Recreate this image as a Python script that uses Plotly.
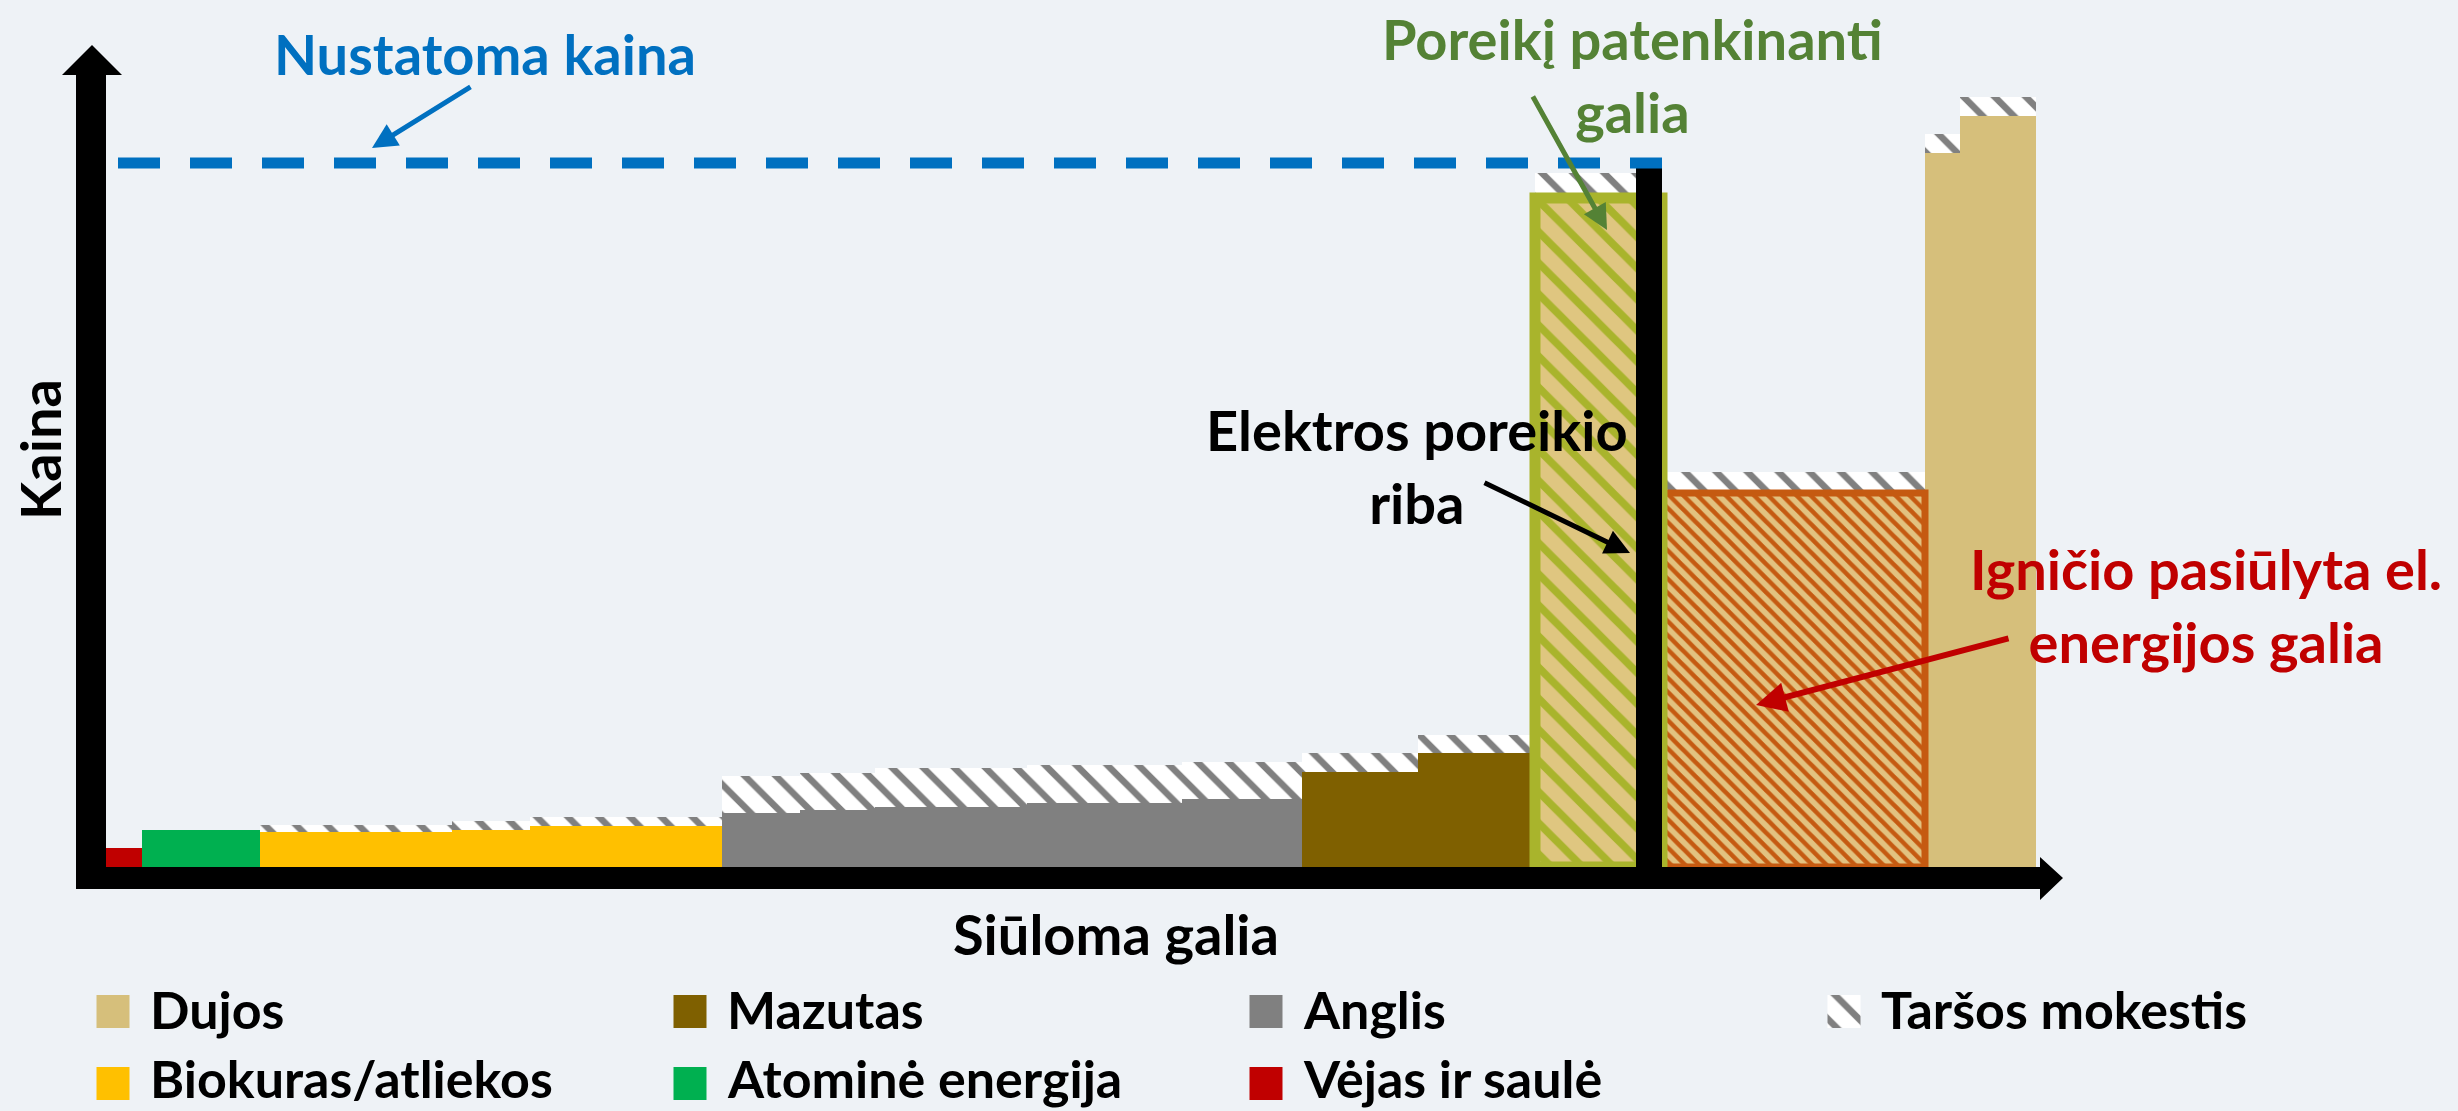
import numpy as np
import plotly.graph_objects as go

# Merit order blocks from left to right (schematic units: capacity offered, price, carbon tax)
block_fuel = ["Vėjas ir saulė", "Atominė energija",
              "Biokuras/atliekos", "Biokuras/atliekos", "Biokuras/atliekos",
              "Anglis", "Anglis", "Anglis", "Anglis", "Anglis",
              "Mazutas", "Mazutas",
              "Dujos (ribinė)", "Dujos (Ignitis)", "Dujos", "Dujos"]
block_capacity = [36, 118, 192, 78, 192, 78, 75, 152, 155, 120, 116, 117, 127, 263, 35, 76]
block_price = [19, 37, 35, 37, 41, 54, 57, 60, 64, 68, 95, 114, 669, 374, 714, 751]
block_tax = [0, 0, 7, 9, 9, 37, 37, 39, 38, 37, 19, 18, 25, 21, 19, 19]

demand_capacity = 1543      # Elektros poreikio riba
demand_line_top = 702
clearing_price = 704        # Nustatoma kaina

legend_labels = ["Dujos", "Mazutas", "Anglis", "Taršos mokestis",
                 "Biokuras/atliekos", "Atominė energija", "Vėjas ir saulė"]

BG = "#EEF2F6"
FONT = "Lato"
fuel_colors = {
    "Vėjas ir saulė": "#C00000",
    "Atominė energija": "#00B050",
    "Biokuras/atliekos": "#FFC000",
    "Anglis": "#808080",
    "Mazutas": "#7F6000",
    "Dujos": "#D6BF7B",
}

cap = np.array(block_capacity, dtype=float)
left = np.concatenate([[0], np.cumsum(cap)[:-1]])
centers = left + cap / 2
price = np.array(block_price, dtype=float)
tax = np.array(block_tax, dtype=float)

plain = [i for i, f in enumerate(block_fuel) if f in fuel_colors]
marginal = block_fuel.index("Dujos (ribinė)")
ignitis = block_fuel.index("Dujos (Ignitis)")

fig = go.Figure()

# plain fuel blocks
fig.add_trace(go.Bar(
    x=centers[plain], y=price[plain], width=cap[plain], base=0,
    marker=dict(color=[fuel_colors[block_fuel[i]] for i in plain], line_width=0),
    hoverinfo="skip"))

# carbon tax on top of each block
fig.add_trace(go.Bar(
    x=centers, y=tax, width=cap, base=price,
    marker=dict(color="white", line_width=0,
                pattern=dict(shape="\\", fgcolor="#808080", bgcolor="white",
                             size=22, solidity=0.3, fillmode="replace")),
    hoverinfo="skip"))

# Ignitis offered capacity
fig.add_trace(go.Bar(
    x=[centers[ignitis]], y=[price[ignitis]], width=[cap[ignitis]], base=0,
    marker=dict(color="#E2C280", line=dict(color="#C55A11", width=7),
                pattern=dict(shape="\\", fgcolor="#C55A11", bgcolor="#E2C280",
                             size=10, solidity=0.45, fillmode="replace")),
    hoverinfo="skip"))

# marginal block that satisfies demand
fig.add_trace(go.Bar(
    x=[centers[marginal]], y=[price[marginal]], width=[cap[marginal]], base=0,
    marker=dict(color="#DFC680", line=dict(color="#A9B42C", width=11),
                pattern=dict(shape="\\", fgcolor="#A9B42C", bgcolor="#DFC680",
                             size=22, solidity=0.35, fillmode="replace")),
    hoverinfo="skip"))

# demand limit
fig.add_trace(go.Scatter(
    x=[demand_capacity, demand_capacity], y=[0, demand_line_top], mode="lines",
    line=dict(color="black", width=26), hoverinfo="skip"))

# clearing price
fig.add_trace(go.Scatter(
    x=[12, demand_capacity + 13], y=[clearing_price, clearing_price], mode="lines",
    line=dict(color="#0070C0", width=11, dash="42px,30px"), hoverinfo="skip"))

# legend swatches
sw_x = [7, 584, 1160, 1738, 7, 584, 1160]
sw_base = [-161, -161, -161, -161, -233, -233, -233]
sw_text_y = [-142, -142, -142, -142, -211, -211, -211]
sw_colors = [fuel_colors.get(l, "white") for l in legend_labels]
solid = [i for i, l in enumerate(legend_labels) if l in fuel_colors]
fig.add_trace(go.Bar(
    x=[sw_x[i] for i in solid], y=[33] * len(solid), width=[33] * len(solid),
    base=[sw_base[i] for i in solid],
    marker=dict(color=[sw_colors[i] for i in solid], line_width=0), hoverinfo="skip"))
t = legend_labels.index("Taršos mokestis")
fig.add_trace(go.Bar(
    x=[sw_x[t]], y=[33], width=[33], base=[sw_base[t]],
    marker=dict(color="white", line_width=0,
                pattern=dict(shape="\\", fgcolor="#808080", bgcolor="white",
                             size=22, solidity=0.3, fillmode="replace")),
    hoverinfo="skip"))

for i, lab in enumerate(legend_labels):
    fig.add_annotation(x=sw_x[i] + 35, y=sw_text_y[i], text=lab, showarrow=False,
                       xanchor="left", yanchor="middle",
                       font=dict(family=FONT, size=52, color="black", weight="bold"))

# axes with arrow heads
shapes = [
    dict(type="path", path="M -30,-22 L 0,-22 L 0,792 L 16,792 L -14,822 L -44,792 L -30,792 Z",
         fillcolor="black", line_width=0, xref="x", yref="y"),
    dict(type="path", path="M -30,0 L 1934,0 L 1934,10 L 1957,-11 L 1934,-33 L 1934,-22 L -30,-22 Z",
         fillcolor="black", line_width=0, xref="x", yref="y"),
]

def label(x, y, text, color, size=56, angle=0):
    fig.add_annotation(x=x, y=y, text=text, showarrow=False, textangle=angle,
                       font=dict(family=FONT, size=size, color=color, weight="bold"))

def arrow(x0, y0, x1, y1, color, w=5):
    fig.add_annotation(x=x1, y=y1, ax=x0, ay=y0, xref="x", yref="y", axref="x", ayref="y",
                       text="", showarrow=True, arrowhead=2, arrowsize=1, arrowwidth=w,
                       arrowcolor=color, standoff=0, startstandoff=0)

label(379, 814, "Nustatoma kaina", "#0070C0")
label(1526, 792, "Poreikį patenkinanti<br>galia", "#548235")
label(1311, 401, "Elektros poreikio<br>riba", "black")
label(2100, 262, "Igničio pasiūlyta el.<br>energijos galia", "#C00000")
label(-67, 417, "Kaina", "black", angle=-90)
label(1010, -66, "Siūloma galia", "black")

arrow(366, 781, 266, 719, "#0070C0")
arrow(1426, 772, 1501, 637, "#548235")
arrow(1377, 385, 1524, 314, "black")
arrow(1904, 229, 1650, 162, "#C00000", w=6)

fig.update_layout(
    width=2458, height=1111,
    margin=dict(l=0, r=0, t=0, b=0),
    paper_bgcolor=BG, plot_bgcolor=BG,
    barmode="overlay", showlegend=False,
    shapes=shapes,
    xaxis=dict(range=[-106, 2352], visible=False, fixedrange=True),
    yaxis=dict(range=[-244, 867], visible=False, fixedrange=True),
)

# drop the default page margin so the figure sits at the window's corner
fig.write_html("out.html", config={"displayModeBar": False}, post_script=(
    "document.body.style.margin='0';"
    "document.body.style.overflow='hidden';"
    "document.body.style.background='" + BG + "';"))
